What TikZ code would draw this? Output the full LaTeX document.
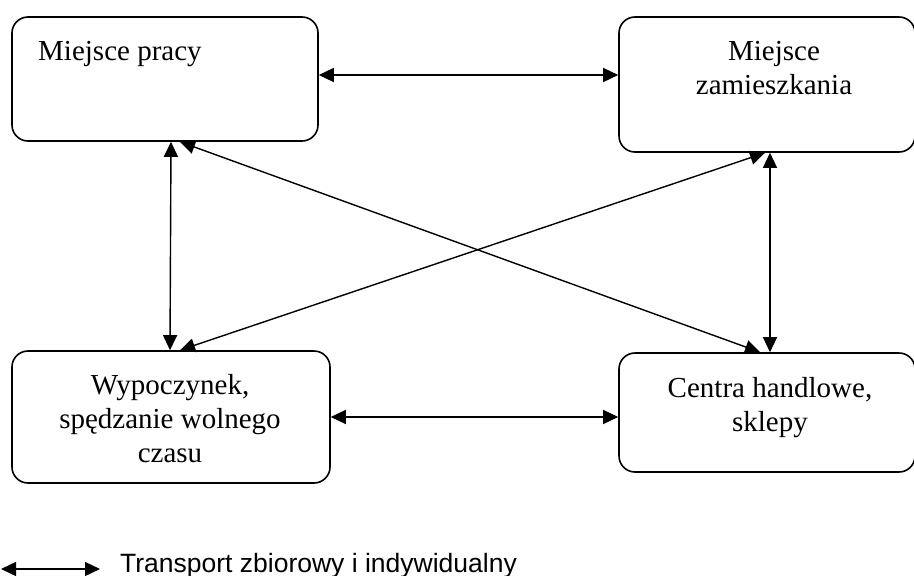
\documentclass[tikz,border=0pt]{standalone}
\usepackage{fontspec}
\setmainfont{Liberation Serif}
\newfontfamily\legfont{Liberation Sans}
\usetikzlibrary{arrows.meta}
\begin{document}
\begin{tikzpicture}[x=1pt,y=-1pt,
  boxnode/.style={draw, line width=1.6pt, rounded corners=16pt, inner sep=0pt},
  txt/.style={font=\fontsize{29}{34}\selectfont, inner sep=0pt, align=center},
  conn/.style={line width=1.4pt, {Triangle[length=15pt,width=14pt]}-{Triangle[length=15pt,width=14pt]}}]
\useasboundingbox (0,0) rectangle (914,576);
\begin{scope}
\clip (0,0) rectangle (914,576);
\node[boxnode, minimum width=306pt, minimum height=124pt] (tl) at (165,79) {};
\node[boxnode, minimum width=296pt, minimum height=135pt] (tr) at (767,84.5) {};
\node[boxnode, minimum width=318pt, minimum height=132pt] (bl) at (171,417) {};
\node[boxnode, minimum width=296pt, minimum height=119pt] (br) at (767,412.5) {};
\end{scope}
\node[txt, anchor=base west] (tlt) at (38,60) {Miejsce pracy};
\node[txt, anchor=north] (trt) at (774,36.2) {\strut Miejsce\\zamieszkania};
\node[txt, anchor=north] (blt) at (170,370.2) {\strut Wypoczynek,\\spędzanie wolnego\\czasu};
\node[txt, anchor=north] (brt) at (770,373.2) {\strut Centra handlowe,\\sklepy};
% connectors
\draw[conn] ([yshift=4pt]tl.east) -- ([yshift=9.5pt]tr.west);
\draw[conn] (bl.east) -- ([yshift=-4.5pt]br.west);
\draw[conn] ([xshift=6pt]tl.south) -- ([xshift=-1pt]bl.north);
\draw[conn] ([xshift=3pt]tr.south) -- ([xshift=3pt]br.north);
\draw[conn] ([xshift=15pt]tl.south) -- ([xshift=-7pt]br.north);
\draw[conn] ([xshift=-2pt]tr.south) -- ([xshift=9pt]bl.north);
% legend
\coordinate (la) at (1,569);
\coordinate (lb) at (100,569);
\draw[conn] (la) -- (lb);
\node[anchor=base west, inner sep=0pt, font=\legfont\fontsize{26.5}{30}\selectfont] (leg) at (120,572) {Transport zbiorowy i indywidualny};
\end{tikzpicture}
\end{document}
